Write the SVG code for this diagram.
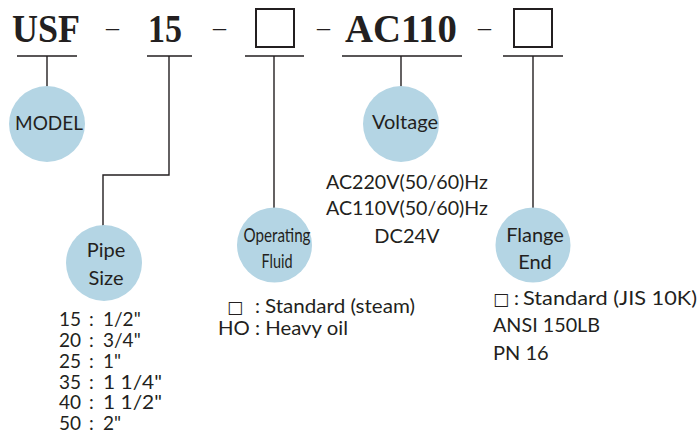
<svg xmlns="http://www.w3.org/2000/svg" width="698" height="436" viewBox="0 0 698 436">
<style>
.hd{font-family:"Liberation Serif",serif;font-weight:bold;font-size:40px;fill:#231f20}
.dash{font-family:"Liberation Serif",serif;font-size:26px;fill:#231f20}
.ln{stroke:#231f20;stroke-width:1.4;fill:none}
.bx{stroke:#231f20;stroke-width:2;fill:#fff}
.c{fill:#b4d5e4}
.t{font-family:Lato,"Liberation Sans",sans-serif;font-size:20px;fill:#231f20}
.p{font-family:Lato,"Liberation Sans",sans-serif;font-size:19px;fill:#231f20}
.sq{font-family:"DejaVu Sans",sans-serif;font-size:17px}
.m{text-anchor:middle}
</style>
<rect width="698" height="436" fill="#fff"/>
<g id="header">
<text class="hd" x="12" y="42" textLength="68" lengthAdjust="spacingAndGlyphs">USF</text>
<text class="dash" x="106" y="36">–</text>
<text class="hd" x="148" y="42" textLength="34" lengthAdjust="spacingAndGlyphs">15</text>
<text class="dash" x="213" y="36">–</text>
<rect class="bx" x="256" y="9" width="38" height="38"/>
<text class="dash" x="317" y="36">–</text>
<text class="hd" x="345" y="42" textLength="112" lengthAdjust="spacingAndGlyphs">AC110</text>
<text class="dash" x="478" y="36">–</text>
<rect class="bx" x="514" y="9" width="38" height="38"/>
</g>
<g id="connectors">
<path class="ln" d="M17 56H77M147 56H192M245 56H304M342 56H462M503 56H563"/>
<path class="ln" d="M47 56V87"/>
<path class="ln" d="M169 56V175H103V226"/>
<path class="ln" d="M274 56V208"/>
<path class="ln" d="M401 56V87"/>
<path class="ln" d="M533 56V208"/>
</g>
<g id="model">
<circle class="c" cx="47" cy="124" r="38"/>
<text class="t m" x="49" y="130" textLength="68" lengthAdjust="spacingAndGlyphs">MODEL</text>
</g>
<g id="pipe-size">
<circle class="c" cx="104" cy="263" r="38"/>
<text class="t m" x="106" y="257">Pipe</text>
<text class="t m" x="106" y="285">Size</text>
<g class="p">
<text x="59" y="326">15<tspan x="89">:</tspan><tspan x="103">1/2"</tspan></text>
<text x="59" y="347">20<tspan x="89">:</tspan><tspan x="103">3/4"</tspan></text>
<text x="59" y="368">25<tspan x="89">:</tspan><tspan x="103">1"</tspan></text>
<text x="59" y="389">35<tspan x="89">:</tspan><tspan x="103" textLength="59" lengthAdjust="spacingAndGlyphs">1 1/4"</tspan></text>
<text x="59" y="409">40<tspan x="89">:</tspan><tspan x="103" textLength="59" lengthAdjust="spacingAndGlyphs">1 1/2"</tspan></text>
<text x="59" y="430">50<tspan x="89">:</tspan><tspan x="103">2"</tspan></text>
</g>
</g>
<g id="operating-fluid">
<circle class="c" cx="274.5" cy="245" r="37.5"/>
<text class="t m" x="277" y="242" font-size="18" textLength="67" lengthAdjust="spacingAndGlyphs">Operating</text>
<text class="t m" x="277" y="268" font-size="18" textLength="31" lengthAdjust="spacingAndGlyphs">Fluid</text>
<text class="t" x="227" y="313"><tspan class="sq">□</tspan><tspan x="255">:</tspan><tspan x="265" textLength="150" lengthAdjust="spacingAndGlyphs">Standard (steam)</tspan></text>
<text class="t" x="218" y="335" textLength="130" lengthAdjust="spacingAndGlyphs">HO : Heavy oil</text>
</g>
<g id="voltage">
<circle class="c" cx="401" cy="124" r="38"/>
<text class="t m" x="405" y="129">Voltage</text>
<text class="t m" x="407" y="189" textLength="162" lengthAdjust="spacingAndGlyphs">AC220V(50/60)Hz</text>
<text class="t m" x="407" y="215" textLength="162" lengthAdjust="spacingAndGlyphs">AC110V(50/60)Hz</text>
<text class="t m" x="407" y="243">DC24V</text>
</g>
<g id="flange-end">
<circle class="c" cx="533" cy="245" r="37.5"/>
<text class="t m" x="535" y="242">Flange</text>
<text class="t m" x="535" y="269">End</text>
<text class="t" x="493" y="305"><tspan class="sq">□</tspan><tspan x="514">:</tspan><tspan x="523" textLength="174" lengthAdjust="spacingAndGlyphs">Standard (JIS 10K)</tspan></text>
<text class="t" x="493" y="332" textLength="107" lengthAdjust="spacingAndGlyphs">ANSI 150LB</text>
<text class="t" x="493" y="360">PN 16</text>
</g>
</svg>
